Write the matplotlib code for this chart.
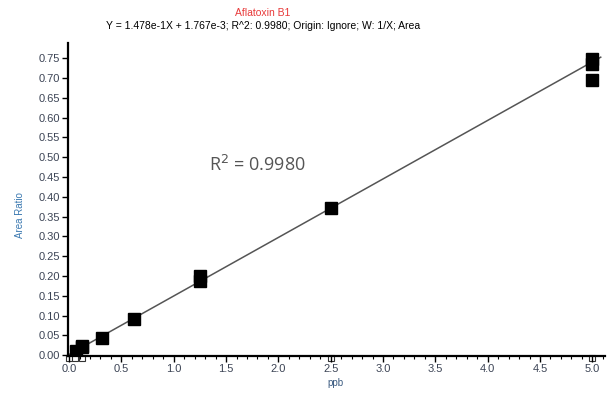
import numpy as np
import matplotlib.pyplot as plt
from matplotlib.ticker import MultipleLocator, FormatStrFormatter

# calibration points (ppb vs area ratio)
conc = [0.0625, 0.125, 0.125, 0.3125, 0.625, 1.25, 1.25, 2.5, 5.0, 5.0, 5.0]
ratio = [0.011, 0.020, 0.024, 0.044, 0.092, 0.187, 0.200, 0.372, 0.749, 0.736, 0.694]

# excluded / blank markers sitting on the axis
excl_x = [0.0, 0.06, 0.12, 2.5, 5.0]

slope = 1.478e-1
intercept = 1.767e-3
line_x = [0.0, 5.08]

plt.rcParams['font.family'] = ['Liberation Sans', 'DejaVu Sans']

fig = plt.figure(figsize=(6.16, 3.96), dpi=100)
ax = fig.add_axes([0.1104, 0.101, 0.8716, 0.790])

lx = np.array(line_x)
ax.plot(lx, slope * lx + intercept, color='#555555', lw=1.1, zorder=2)
ax.plot(conc, ratio, 's', color='black', ms=8.8, zorder=3)
ax.plot(excl_x, [-0.007] * len(excl_x), 's', mfc='white', mec='#333333',
        mew=0.8, ms=5, clip_on=False, zorder=1)

ax.set_xlim(-0.01, 5.12)
ax.set_ylim(-0.002, 0.788)

ax.xaxis.set_major_locator(MultipleLocator(0.5))
ax.xaxis.set_minor_locator(MultipleLocator(0.1))
ax.yaxis.set_major_locator(MultipleLocator(0.05))
ax.xaxis.set_major_formatter(FormatStrFormatter('%.1f'))
ax.yaxis.set_major_formatter(FormatStrFormatter('%.2f'))

for s in ['top', 'right']:
    ax.spines[s].set_visible(False)
for s in ['left', 'bottom']:
    ax.spines[s].set_linewidth(1.6)
    ax.spines[s].set_zorder(4)

ax.tick_params(axis='both', which='major', length=4, width=1, labelsize=8,
               labelcolor='#3c4455', pad=1.5)
ax.tick_params(axis='x', which='minor', length=2.5, width=0.8)

fig.text(263 / 616, 1 - 13 / 396, 'Aflatoxin B1', color='#e83a3a', fontsize=7.5,
         ha='center', va='center')
fig.text(263 / 616, 1 - 26 / 396,
         'Y = 1.478e-1X + 1.767e-3; R^2: 0.9980; Origin: Ignore; W: 1/X; Area',
         color='black', fontsize=7.5, ha='center', va='center')

fig.text(20 / 616, 1 - 215 / 396, 'Area Ratio', color='#3a78b0', fontsize=7,
         rotation=90, ha='center', va='center')
fig.text(335 / 616, 1 - 383 / 396, 'ppb', color='#3a5a80', fontsize=7,
         ha='center', va='center')

fig.text(257 / 616, 1 - 165 / 396, r'R$^2$ = 0.9980', color='#555555',
         fontsize=13, family=['Open Sans', 'DejaVu Sans'], ha='center', va='center')

fig.savefig('out.png', dpi=100)
